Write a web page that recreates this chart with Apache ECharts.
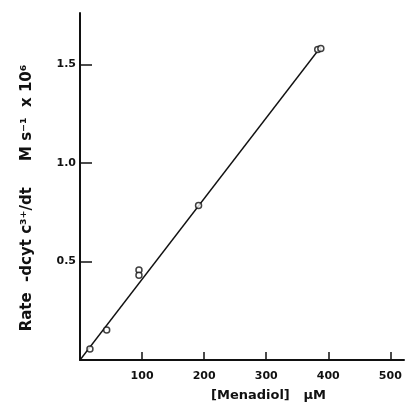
<!DOCTYPE html>
<html>
<head>
<meta charset="utf-8">
<script src="https://cdn.jsdelivr.net/npm/echarts@6/dist/echarts.min.js"></script>
<style>
  html, body { margin: 0; padding: 0; background: #fff; }
  #chart { width: 406px; height: 411px; }
</style>
</head>
<body>
<div id="chart"></div>
<script>
// données
const menadiol = [16, 43, 95, 95, 191, 383, 388];
const vitesse = [0.056, 0.152, 0.457, 0.43, 0.783, 1.575, 1.58];
const droiteX = [0, 386];
const droiteY = [0, 1.58];
const ticksX = [100, 200, 300, 400, 500];
const ticksY = [0.5, 1.0, 1.5];

const police = "DejaVu Sans";

document.addEventListener("DOMContentLoaded", () => {
    const chart = echarts.init(document.getElementById("chart"));

    const option = {
        backgroundColor: "#fff",
        animation: false,
        grid: { left: 80, top: 13, width: 324, height: 347 },
        xAxis: {
            type: "value",
            min: 0,
            max: 522,
            interval: 100,
            axisLine: { lineStyle: { color: "#111", width: 2 } },
            axisTick: { inside: true, length: 8, customValues: ticksX, lineStyle: { color: "#111", width: 1.5 } },
            splitLine: { show: false },
            axisLabel: {
                color: "#111", fontFamily: police, fontWeight: "bold", fontSize: 11, margin: 11,
                customValues: ticksX,
                formatter: v => String(v)
            }
        },
        yAxis: {
            type: "value",
            min: 0,
            max: 1.76,
            interval: 0.5,
            axisLine: { lineStyle: { color: "#111", width: 2 } },
            axisTick: { inside: true, length: 12, customValues: ticksY, lineStyle: { color: "#111", width: 1.5 } },
            splitLine: { show: false },
            axisLabel: {
                color: "#111", fontFamily: police, fontWeight: "bold", fontSize: 11, margin: 4,
                customValues: ticksY,
                formatter: v => v.toFixed(1)
            }
        },
        series: [
            {
                type: "line",
                data: droiteX.map((x, i) => [x, droiteY[i]]),
                symbol: "none",
                lineStyle: { color: "#111", width: 1.4 },
                z: 2
            },
            {
                type: "scatter",
                data: menadiol.map((x, i) => [x, vitesse[i]]),
                symbol: "circle",
                symbolSize: 6,
                itemStyle: { color: "#fff", borderColor: "#111", borderWidth: 1.5 },
                z: 3
            }
        ],
        graphic: [
            {
                type: "text",
                x: 211, y: 389,
                style: {
                    text: "[Menadiol]   \u03bcM",
                    fill: "#111", font: "bold 13px " + police
                }
            },
            {
                type: "text",
                x: 27, y: 198,
                rotation: Math.PI / 2,
                style: {
                    text: "Rate  -dcyt c\u00b3\u207a/dt     M s\u207b\u00b9  x 10\u2076",
                    fill: "#111", font: "bold 15px " + police,
                    align: "center", verticalAlign: "middle"
                }
            }
        ]
    };

    chart.setOption(option);
});
</script>
</body>
</html>
